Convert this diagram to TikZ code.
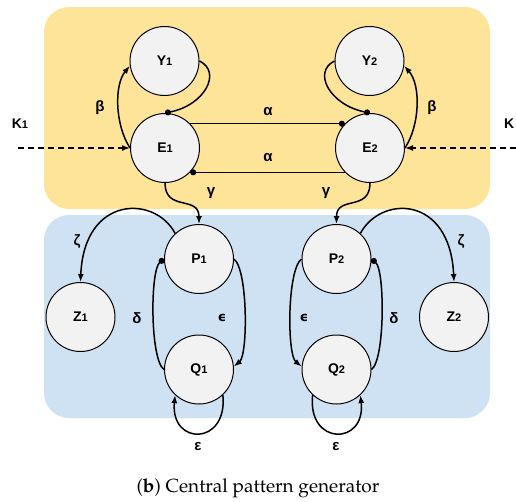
\documentclass[tikz,border=0pt]{standalone}
\usepackage[T1]{fontenc}
\usepackage{fontspec}
\newfontfamily\labfont{Liberation Sans}
\newfontfamily\greekfont{Liberation Sans}
\newfontfamily\lunatefont{DejaVu Sans}
\usetikzlibrary{arrows.meta}
\definecolor{upperbg}{RGB}{254,228,153}
\definecolor{lowerbg}{RGB}{207,226,243}
\definecolor{cellfill}{RGB}{242,242,242}
\tikzset{
  cell/.style={circle,draw=black,line width=1pt,fill=cellfill,minimum size=69pt,inner sep=0pt},
  exc/.style={line width=1.5pt,-{Latex[length=8pt,width=6pt]}},
  inh/.style={line width=1.5pt,-{Circle[length=6pt]}},
  ext/.style={exc,dash pattern=on 6pt off 4pt},
  gk/.style={font=\greekfont\bfseries\fontsize{15}{17}\selectfont},
  gkl/.style={font=\lunatefont\bfseries\fontsize{13}{15}\selectfont},
  panel/.style={rounded corners=25pt},
}
\newcommand\cellname[2]{{\labfont\bfseries\fontsize{14}{16}\selectfont #1\fontsize{11}{12}\selectfont #2}}
\begin{document}
\begin{tikzpicture}[x=1pt,y=-1pt]
\useasboundingbox (0,0) rectangle (516,501);
% two layers
\fill[upperbg,panel] (44,7) rectangle (490,209);
\fill[lowerbg,panel] (44,215) rectangle (490,418);

% cells
\node[cell] (Y1) at (164.5,61) {\cellname{Y}{1}};
\node[cell] (E1) at (165,148) {\cellname{E}{1}};
\node[cell] (Y2) at (369.5,61) {\cellname{Y}{2}};
\node[cell] (E2) at (370,148) {\cellname{E}{2}};
\node[cell] (P1) at (199,259) {\cellname{P}{1}};
\node[cell] (Q1) at (199,369.5) {\cellname{Q}{1}};
\node[cell] (Z1) at (80.5,317) {\cellname{Z}{1}};
\node[cell] (P2) at (336.5,259) {\cellname{P}{2}};
\node[cell] (Q2) at (336.5,369.5) {\cellname{Q}{2}};
\node[cell] (Z2) at (454,317) {\cellname{Z}{2}};

% external drive
\coordinate (kl) at (18,148);
\coordinate (kr) at (516,148);
\draw[ext] (kl) -- (E1.west);
\draw[ext] (kr) -- (E2.east);
\node (K1) at (20,124) {\cellname{K}{1}};
\node[anchor=west,inner sep=0pt] (K2) at (504,124) {\cellname{K}{}};

% upper layer
\draw[exc] (E1.west) .. controls (115,125) and (114,85) .. (Y1.188);
\draw[exc] (E2.east) .. controls (420,125) and (421,85) .. (Y2.-8);
\draw[inh] (Y1.east) .. controls (222,72) and (205,105) .. (E1.north);
\draw[inh] (Y2.west) .. controls (312,72) and (330,105) .. (E2.north);
\draw[inh] (E1.44) -- (E2.136);
\draw[inh] (E2.-136) -- (E1.-44);
\node[gk] (b1) at (100,108) {β};
\node[gk] (b2) at (432,108) {β};
\node[gk] (a1) at (268,112) {α};
\node[gk] (a2) at (268,158) {α};

% between layers
\draw[exc] (E1.south) .. controls (165,212) and (199,195) .. (P1.north);
\draw[exc] (E2.south) .. controls (370,212) and (336.5,195) .. (P2.north);
\node[gk] (g1) at (211,193) {γ};
\node[gk] (g2) at (326,193) {γ};

% lower layer
\draw[exc] (P1.133) .. controls (155,195) and (84,195) .. (Z1.north);
\draw[exc] (P2.47) .. controls (381,195) and (450,195) .. (Z2.north);
\node[gk] (z1) at (77,242) {ζ};
\node[gk] (z2) at (461,242) {ζ};

\draw[inh] (Q1.west) .. controls (150,360) and (150,270) .. (P1.west);
\draw[exc] (P1.east) .. controls (248,270) and (248,355) .. (Q1.5);
\draw[exc] (P2.west) .. controls (287,270) and (287,355) .. (Q2.175);
\draw[inh] (Q2.east) .. controls (385,360) and (385,270) .. (P2.east);
\node[gk] (d1) at (137,318) {δ};
\node[gkl] (e1) at (222,318) {ϵ};
\node[gkl] (e2) at (304,318) {ϵ};
\node[gk] (d2) at (394,318) {δ};

\draw[exc] (Q1.-47) .. controls (228,446) and (170,446) .. (Q1.-133);
\draw[exc] (Q2.-133) .. controls (307,446) and (366,446) .. (Q2.-47);
\node[gk] (v1) at (198,447) {ε};
\node[gk] (v2) at (336,447) {ε};

% caption
\node (cap) at (258,488) {\fontencoding{T1}\fontfamily{ppl}\fontsize{19}{22}\selectfont (\textbf{b}) Central pattern generator};
\end{tikzpicture}
\end{document}
